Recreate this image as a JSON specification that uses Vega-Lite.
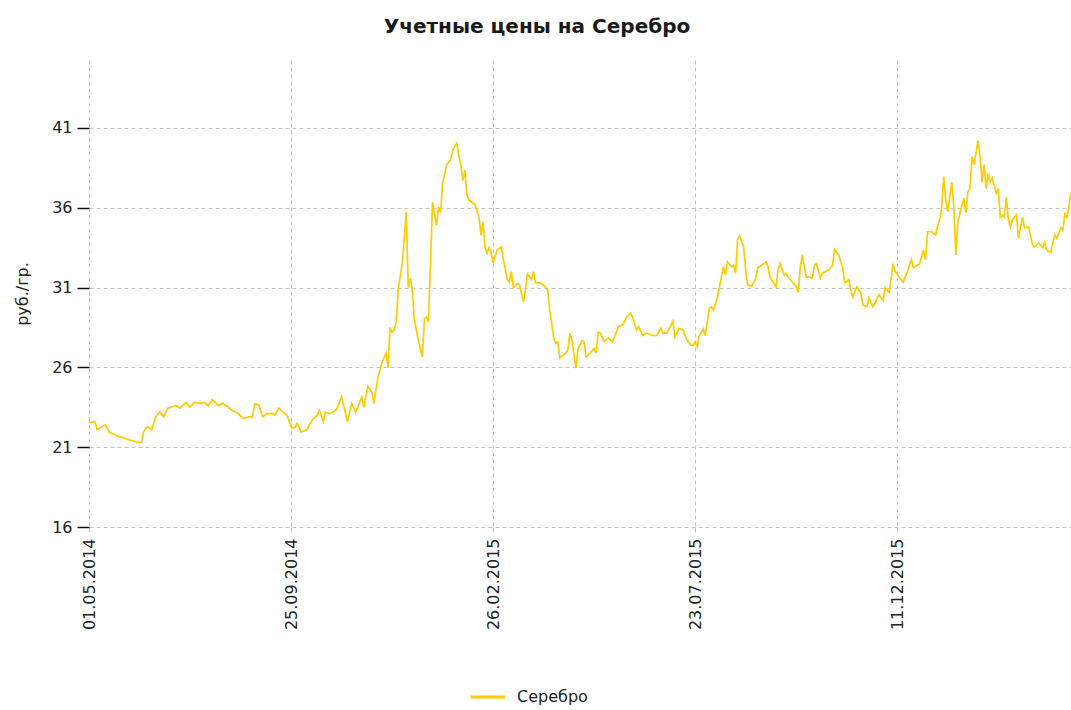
{
  "$schema": "https://vega.github.io/schema/vega-lite/v6.json",
  "autosize": "none",
  "width": 982,
  "height": 467,
  "padding": {"left": 89, "top": 60, "right": 0, "bottom": 183},
  "background": "white",
  "title": {
    "text": "Учетные цены на Серебро",
    "font": "DejaVu Sans",
    "fontSize": 20,
    "fontWeight": "bold",
    "color": "#1a1a1a",
    "anchor": "middle",
    "dx": -43,
    "offset": 23
  },
  "config": {
    "view": {"stroke": null},
    "axis": {"labelFont": "DejaVu Sans", "titleFont": "DejaVu Sans", "labelFontSize": 16, "titleFontSize": 16, "labelColor": "#222", "titleColor": "#222", "titleFontWeight": "normal"}
  },
  "data": {
    "values": [
      {"i":0,"v":22.52},{"i":3,"v":22.6},{"i":4,"v":22.1},{"i":8,"v":22.4},{"i":10,"v":21.95},{"i":14,"v":21.7},{"i":17,"v":21.6},{"i":20,"v":21.45},{"i":24,"v":21.3},{"i":26,"v":21.3},{"i":27,"v":21.95},{"i":29,"v":22.3},{"i":31,"v":22.1},{"i":33,"v":22.9},{"i":35,"v":23.2},{"i":37,"v":22.9},{"i":39,"v":23.45},{"i":43,"v":23.6},{"i":45,"v":23.45},{"i":48,"v":23.8},{"i":50,"v":23.5},{"i":52,"v":23.8},{"i":55,"v":23.75},{"i":57,"v":23.8},{"i":59,"v":23.6},{"i":61,"v":24.0},{"i":64,"v":23.6},{"i":66,"v":23.75},{"i":69,"v":23.5},{"i":71,"v":23.3},{"i":74,"v":23.1},{"i":76,"v":22.8},{"i":79,"v":22.9},{"i":81,"v":22.9},{"i":82,"v":23.7},{"i":84,"v":23.65},{"i":86,"v":22.9},{"i":88,"v":23.1},{"i":91,"v":23.1},{"i":92,"v":23.0},{"i":94,"v":23.45},{"i":96,"v":23.2},{"i":98,"v":23.0},{"i":100,"v":22.3},
      {"i":101,"v":22.2},{"i":102,"v":22.25},{"i":103,"v":22.5},{"i":105,"v":21.95},{"i":108,"v":22.1},{"i":109,"v":22.4},{"i":111,"v":22.8},{"i":113,"v":23.0},{"i":114,"v":23.3},{"i":116,"v":22.6},{"i":117,"v":23.2},{"i":119,"v":23.1},{"i":122,"v":23.3},{"i":123,"v":23.5},{"i":125,"v":24.15},{"i":127,"v":23.1},{"i":128,"v":22.6},{"i":130,"v":23.75},{"i":132,"v":23.2},{"i":133,"v":23.5},{"i":135,"v":24.15},{"i":136,"v":23.5},{"i":138,"v":24.8},{"i":140,"v":24.45},{"i":141,"v":23.75},{"i":143,"v":25.4},{"i":145,"v":26.3},{"i":147,"v":26.9},{"i":148,"v":26.0},{"i":149,"v":28.5},{"i":150,"v":28.2},{"i":151,"v":28.35},{"i":152,"v":28.8},{"i":153,"v":30.85},{"i":155,"v":32.5},{"i":156,"v":34.0},{"i":157,"v":35.75},{"i":158,"v":31.0},{"i":159,"v":31.6},{"i":160,"v":30.85},{"i":161,"v":29.0},{"i":163,"v":27.7},{"i":165,"v":26.65},{"i":166,"v":29.0},{"i":167,"v":29.15},{"i":168,"v":28.85},{"i":169,"v":32.5},{"i":170,"v":36.35},{"i":172,"v":34.9},{"i":173,"v":36.05},{"i":174,"v":35.7},{"i":175,"v":37.55},{"i":177,"v":38.7},{"i":179,"v":39.0},{"i":180,"v":39.6},{"i":182,"v":40.05},{"i":183,"v":39.3},{"i":184,"v":38.7},{"i":185,"v":37.7},{"i":186,"v":38.35},{"i":187,"v":36.8},{"i":188,"v":36.5},{"i":190,"v":36.3},{"i":191,"v":36.2},{"i":193,"v":35.4},{"i":194,"v":34.3},{"i":195,"v":35.1},{"i":196,"v":33.5},{"i":197,"v":33.15},{"i":198,"v":33.5},{"i":199,"v":33.2},{"i":200,"v":32.55},
      {"i":202,"v":33.35},{"i":204,"v":33.55},{"i":205,"v":32.85},{"i":207,"v":31.5},{"i":208,"v":31.35},{"i":209,"v":32.0},{"i":210,"v":31.0},{"i":212,"v":31.25},{"i":213,"v":31.2},{"i":215,"v":30.1},{"i":216,"v":30.85},{"i":217,"v":31.85},{"i":219,"v":31.5},{"i":220,"v":32.0},{"i":221,"v":31.3},{"i":223,"v":31.3},{"i":225,"v":31.15},{"i":227,"v":30.85},{"i":228,"v":29.6},{"i":230,"v":27.85},{"i":231,"v":27.5},{"i":232,"v":27.6},{"i":233,"v":26.6},{"i":236,"v":26.9},{"i":237,"v":27.1},{"i":238,"v":28.15},{"i":239,"v":27.7},{"i":241,"v":25.95},{"i":242,"v":27.1},{"i":244,"v":27.7},{"i":245,"v":27.6},{"i":246,"v":26.65},{"i":248,"v":26.9},{"i":250,"v":27.2},{"i":251,"v":26.9},{"i":252,"v":28.2},{"i":253,"v":28.15},{"i":255,"v":27.6},{"i":257,"v":27.85},{"i":259,"v":27.6},{"i":260,"v":27.9},{"i":262,"v":28.55},{"i":264,"v":28.65},{"i":265,"v":28.85},{"i":266,"v":29.15},{"i":268,"v":29.4},{"i":269,"v":29.15},{"i":271,"v":28.35},{"i":272,"v":28.55},{"i":274,"v":28.0},{"i":276,"v":28.15},{"i":279,"v":28.0},{"i":281,"v":28.0},{"i":283,"v":28.45},{"i":284,"v":28.15},{"i":286,"v":28.15},{"i":289,"v":28.9},{"i":290,"v":27.9},{"i":292,"v":28.45},{"i":294,"v":28.35},{"i":296,"v":27.7},{"i":298,"v":27.4},{"i":299,"v":27.4},{"i":300,"v":27.6},
      {"i":301,"v":27.3},{"i":302,"v":28.0},{"i":304,"v":28.4},{"i":305,"v":28.0},{"i":307,"v":29.7},{"i":308,"v":29.8},{"i":309,"v":29.6},{"i":311,"v":30.35},{"i":312,"v":31.05},{"i":314,"v":32.3},{"i":315,"v":31.8},{"i":316,"v":32.6},{"i":318,"v":32.3},{"i":319,"v":32.4},{"i":320,"v":31.9},{"i":321,"v":34.0},{"i":322,"v":34.25},{"i":324,"v":33.55},{"i":325,"v":32.1},{"i":326,"v":31.15},{"i":328,"v":31.1},{"i":330,"v":31.6},{"i":331,"v":32.25},{"i":333,"v":32.4},{"i":335,"v":32.6},{"i":336,"v":32.35},{"i":337,"v":31.65},{"i":340,"v":31.05},{"i":341,"v":32.1},{"i":342,"v":32.5},{"i":344,"v":31.8},{"i":345,"v":31.9},{"i":346,"v":31.65},{"i":348,"v":31.35},{"i":350,"v":31.05},{"i":351,"v":30.7},{"i":352,"v":32.25},{"i":353,"v":33.05},{"i":355,"v":31.65},{"i":356,"v":31.65},{"i":358,"v":31.6},{"i":359,"v":32.4},{"i":360,"v":32.5},{"i":362,"v":31.6},{"i":363,"v":31.9},{"i":366,"v":32.1},{"i":368,"v":32.4},{"i":369,"v":33.4},{"i":371,"v":33.05},{"i":373,"v":32.25},{"i":374,"v":31.3},{"i":376,"v":31.5},{"i":377,"v":30.85},{"i":378,"v":30.4},{"i":380,"v":31.05},{"i":382,"v":30.65},{"i":383,"v":29.9},{"i":385,"v":29.8},{"i":386,"v":30.35},{"i":388,"v":29.8},{"i":389,"v":30.05},{"i":391,"v":30.55},{"i":393,"v":30.2},{"i":394,"v":31.0},{"i":396,"v":30.7},{"i":398,"v":32.5},{"i":399,"v":32.0},
      {"i":401,"v":31.65},{"i":403,"v":31.35},{"i":405,"v":32.0},{"i":407,"v":32.75},{"i":408,"v":32.25},{"i":410,"v":32.4},{"i":411,"v":32.5},{"i":413,"v":33.35},{"i":414,"v":32.75},{"i":415,"v":34.5},{"i":417,"v":34.5},{"i":419,"v":34.3},{"i":420,"v":34.9},{"i":421,"v":35.25},{"i":422,"v":36.0},{"i":423,"v":37.95},{"i":424,"v":36.5},{"i":425,"v":35.75},{"i":427,"v":37.6},{"i":428,"v":36.05},{"i":429,"v":33.05},{"i":430,"v":35.1},{"i":432,"v":36.15},{"i":433,"v":36.6},{"i":434,"v":35.7},{"i":435,"v":37.0},{"i":436,"v":37.2},{"i":437,"v":39.2},{"i":438,"v":38.7},{"i":440,"v":40.2},{"i":441,"v":39.2},{"i":442,"v":37.6},{"i":443,"v":38.7},{"i":444,"v":37.2},{"i":445,"v":38.15},{"i":446,"v":37.6},{"i":447,"v":37.85},{"i":449,"v":36.9},{"i":450,"v":37.2},{"i":451,"v":35.4},{"i":452,"v":35.55},{"i":453,"v":35.4},{"i":454,"v":36.65},{"i":455,"v":35.25},{"i":456,"v":34.8},{"i":457,"v":35.25},{"i":459,"v":35.55},{"i":460,"v":34.1},{"i":461,"v":34.8},{"i":462,"v":35.4},{"i":463,"v":34.75},{"i":465,"v":34.8},{"i":467,"v":33.65},{"i":468,"v":33.55},{"i":470,"v":33.8},{"i":472,"v":33.5},{"i":473,"v":33.85},{"i":474,"v":33.35},{"i":476,"v":33.2},{"i":477,"v":33.8},{"i":478,"v":34.3},{"i":479,"v":34.1},{"i":481,"v":34.75},{"i":482,"v":34.6},{"i":483,"v":35.7},{"i":484,"v":35.35},{"i":485,"v":36.15},{"i":486,"v":36.9}
    ]
  },
  "mark": {"type": "line", "strokeWidth": 1.7, "interpolate": "linear", "clip": true},
  "encoding": {
    "x": {
      "field": "i",
      "type": "quantitative",
      "scale": {"domain": [0, 486], "nice": false, "zero": false},
      "axis": {
        "values": [0, 100, 200, 300, 400],
        "labelExpr": "datum.value == 0 ? '01.05.2014' : datum.value == 100 ? '25.09.2014' : datum.value == 200 ? '26.02.2015' : datum.value == 300 ? '23.07.2015' : '11.12.2015'",
        "labelAngle": -90,
        "labelPadding": 6,
        "domain": false,
        "grid": true,
        "gridColor": "#c4c4c4",
        "gridDash": [4, 3],
        "gridWidth": 1,
        "tickColor": "#c4c4c4",
        "tickSize": 5,
        "labelFlush": false,
        "labelOverlap": false,
        "title": null
      }
    },
    "y": {
      "field": "v",
      "type": "quantitative",
      "scale": {"domain": [16, 45.26], "nice": false, "zero": false},
      "axis": {
        "values": [16, 21, 26, 31, 36, 41],
        "domain": false,
        "grid": true,
        "gridColor": "#c4c4c4",
        "gridDash": [4, 3],
        "gridWidth": 1,
        "tickColor": "#111",
        "tickSize": 12,
        "tickWidth": 1.5,
        "labelPadding": 5,
        "title": "руб./гр.",
        "titlePadding": 21
      }
    },
    "color": {
      "datum": "Серебро",
      "type": "nominal",
      "scale": {"range": ["#FFCC00"]},
      "legend": {
        "title": null,
        "orient": "none",
        "legendX": 380,
        "legendY": 618,
        "symbolType": "stroke",
        "symbolStrokeWidth": 3,
        "symbolSize": 1200,
        "labelFont": "DejaVu Sans",
        "labelFontSize": 16,
        "labelColor": "#222",
        "labelOffset": 10
      }
    }
  }
}
